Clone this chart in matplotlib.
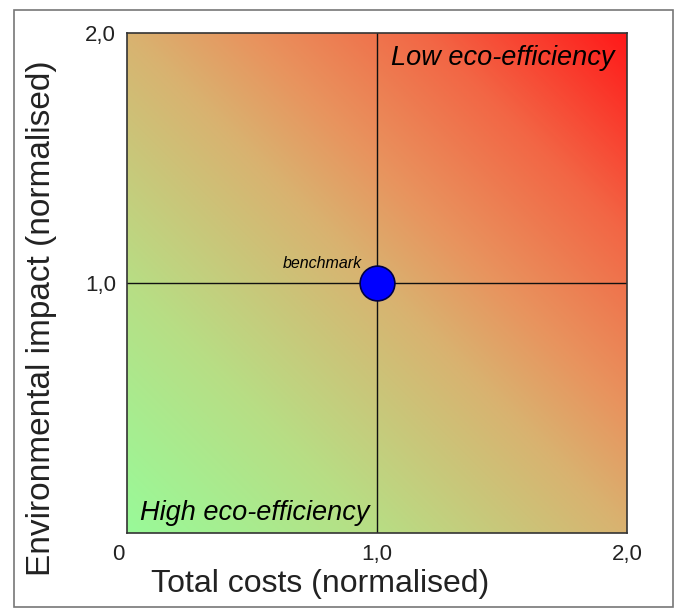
import numpy as np
import matplotlib
matplotlib.use("Agg")
import matplotlib.pyplot as plt
from matplotlib.colors import LinearSegmentedColormap
from matplotlib.patches import Rectangle
import matplotlib.transforms as mtransforms

plt.rcParams['font.family'] = ['Liberation Sans', 'DejaVu Sans']

# data
bench_x = [1.0]
bench_y = [1.0]
tick_vals = [0, 1, 2]
xtick_labels = ['0', '1,0', '2,0']
ytick_labels = ['', '1,0', '2,0']
quadrant_labels = ['Low eco-efficiency', 'High eco-efficiency']

fig = plt.figure(figsize=(6.8, 6.1), dpi=100)
fig.patches.append(Rectangle((14/680, 3/610), 659/680, 597/610, transform=fig.transFigure,
                             fill=False, edgecolor='#777777', linewidth=1.2))

ax = fig.add_axes([127/680, 77/610, 500/680, 500/610])

# diagonal gradient green -> tan -> red
cmap = LinearSegmentedColormap.from_list('eco', [
    (0.0, (0.60, 0.98, 0.60)),
    (0.25, (0.72, 0.87, 0.52)),
    (0.5, (0.85, 0.70, 0.44)),
    (0.62, (0.91, 0.58, 0.37)),
    (0.8, (0.95, 0.40, 0.27)),
    (1.0, (1.00, 0.10, 0.10)),
])
g = np.linspace(0, 2, 300)
gx, gy = np.meshgrid(g, g)
ax.imshow((gx + gy) / 4, extent=[0, 2, 0, 2], origin='lower', cmap=cmap,
          vmin=0, vmax=1, aspect='auto', interpolation='bilinear')

ax.axvline(1, color='#111111', linewidth=1)
ax.axhline(1, color='#111111', linewidth=1)
ax.plot(bench_x, bench_y, 'o', markersize=25, color='#0000ff',
        markeredgecolor='#000044', markeredgewidth=1.2, zorder=5)
ax.text(bench_x[0] - 0.06, bench_y[0] + 0.08, 'benchmark', fontsize=11.5,
        style='italic', ha='right', va='center')

ax.text(1.95, 1.9, quadrant_labels[0], fontsize=19.5, style='italic', ha='right', va='center')
ax.text(0.05, 0.08, quadrant_labels[1], fontsize=19.5, style='italic', ha='left', va='center')

ax.set_xlim(0, 2)
ax.set_ylim(0, 2)
ax.set_xticks(tick_vals)
ax.set_xticklabels(xtick_labels, fontsize=16, color='#222222')
ax.set_yticks(tick_vals)
ax.set_yticklabels(ytick_labels, fontsize=16, color='#222222')
ax.tick_params(length=0, pad=8)
lbl0 = ax.get_xticklabels()[0]
lbl0.set_transform(lbl0.get_transform() + mtransforms.ScaledTranslation(-9/100, 0, fig.dpi_scale_trans))

for s in ax.spines.values():
    s.set_color('#333333')
    s.set_linewidth(1.2)

ax.set_xlabel('Total costs (normalised)', fontsize=23, color='#222222')
ax.set_ylabel('Environmental impact (normalised)', fontsize=24, color='#222222')
ax.xaxis.set_label_coords(0.386, -0.072)
ax.yaxis.set_label_coords(-0.14, 0.43)

fig.savefig('out.png', dpi=100)
